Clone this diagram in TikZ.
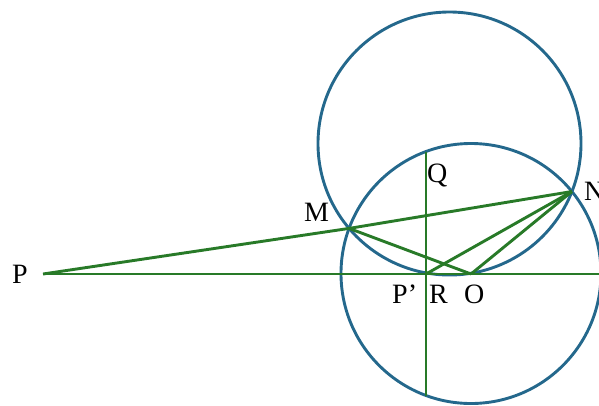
\documentclass[tikz,border=0pt]{standalone}
\usepackage{fontspec}
\setmainfont{Liberation Serif}
\definecolor{circblue}{RGB}{36,104,140}
\definecolor{lgreen}{RGB}{40,122,40}
\begin{document}
\begin{tikzpicture}[x=1pt,y=-1pt,
  circ/.style={draw=circblue,line width=2.9pt},
  seg/.style={draw=lgreen,line width=2.9pt},
  lbl/.style={inner sep=0pt,anchor=base west,font=\fontsize{28}{28}\selectfont}]
\useasboundingbox (0,0) rectangle (599,405);
\coordinate (C1) at (449.5,143.5);
\coordinate (C2) at (471,273.5);
\coordinate (P) at (43,274);
\coordinate (E) at (600,274);
\coordinate (M) at (349.1,228.4);
\coordinate (N) at (571.9,191.5);
\coordinate (Pp) at (426,274);
\coordinate (O) at (471,274);
\coordinate (Qt) at (426,151.5);
\coordinate (Qb) at (426,395.5);
\draw[circ] (C1) circle[radius=131.5];
\draw[circ] (C2) circle[radius=130];
\draw[seg] (P) -- (E);
\draw[seg] (P) -- (M) -- (N);
\draw[seg] (Qt) -- (Qb);
\draw[seg] (M) -- (O);
\draw[seg] (Pp) -- (N);
\draw[seg] (O) -- (N);
\node[lbl] (lP) at (12,283.5) {P};
\node[lbl] (lM) at (304,221.5) {M};
\node[lbl] (lN) at (584,200) {N};
\node[lbl] (lQ) at (427,182) {Q};
\node[lbl] (lPp) at (392,303) {P’};
\node[lbl] (lR) at (429,303) {R};
\node[lbl] (lO) at (464,303) {O};
\end{tikzpicture}
\end{document}
